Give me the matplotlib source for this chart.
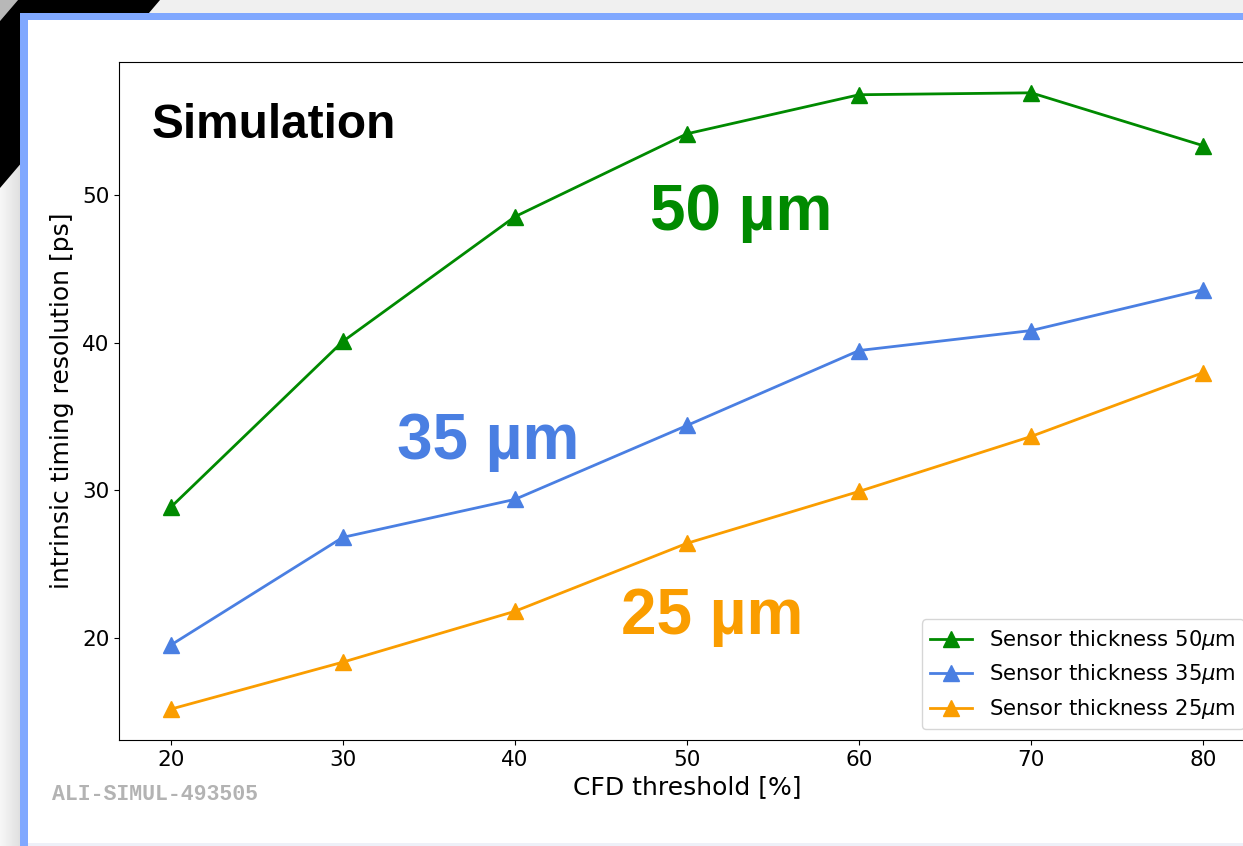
import numpy as np
import matplotlib
matplotlib.use("Agg")
import matplotlib.pyplot as plt
from matplotlib.patches import Polygon, Rectangle

# CFD threshold scan
thresholds = [20, 30, 40, 50, 60, 70, 80]
res_50um = [28.85, 40.07, 48.51, 54.12, 56.76, 56.89, 53.31]
res_35um = [19.53, 26.82, 29.39, 34.39, 39.46, 40.81, 43.58]
res_25um = [15.20, 18.38, 21.82, 26.42, 29.93, 33.65, 37.97]

series_labels = [r"Sensor thickness 50$\mu$m",
                 r"Sensor thickness 35$\mu$m",
                 r"Sensor thickness 25$\mu$m"]
tag_labels = ["50 µm", "35 µm", "25 µm"]

c_green = "#008a00"
c_blue = "#4a7fe2"
c_orange = "#fa9d00"

W, H = 1243, 846
fig = plt.figure(figsize=(W / 100, H / 100), dpi=100)
fig.patch.set_facecolor("white")

# slide frame drawn in pixel coordinates on a background axes
bg = fig.add_axes([0, 0, 1, 1], zorder=-10)
bg.set_xlim(0, W)
bg.set_ylim(H, 0)
bg.axis("off")
bg.add_patch(Rectangle((0, 0), W, H, color="#f0f0f0", lw=0))
grad = np.linspace(0.97, 0.88, 64)[None, :]
bg.imshow(np.dstack([grad, grad, grad]), extent=(0, 20, H, 0), aspect="auto", zorder=1)
bg.add_patch(Polygon([(0, 0), (18, 0), (0, 21)], closed=True, color="#b8b8b8", lw=0, zorder=2))
bg.add_patch(Polygon([(18, 0), (160, 0), (0, 188), (0, 21)], closed=True, color="black", lw=0, zorder=2))
bg.add_patch(Rectangle((20, 13), W, H, color="#80a8ff", lw=0, zorder=3))
bg.add_patch(Rectangle((28, 20), W, 823, color="white", lw=0, zorder=4))
bg.add_patch(Rectangle((28, 843), W, 3, color="#eef0f8", lw=0, zorder=4))
bg.set_xlim(0, W)
bg.set_ylim(H, 0)

ax = fig.add_axes([119 / W, 106 / H, 1136 / W, 678 / H])
ax.set_facecolor("white")
ax.plot(thresholds, res_50um, "-^", color=c_green, lw=2.0, ms=11, label=series_labels[0])
ax.plot(thresholds, res_35um, "-^", color=c_blue, lw=2.0, ms=11, label=series_labels[1])
ax.plot(thresholds, res_25um, "-^", color=c_orange, lw=2.0, ms=11, label=series_labels[2])

ax.set_xticks(thresholds)
ax.set_yticks([20, 30, 40, 50])
ax.tick_params(labelsize=15.5)
ax.set_xlabel("CFD threshold [%]", fontsize=18, labelpad=4)
ax.set_ylabel("intrinsic timing resolution [ps]", fontsize=18, labelpad=6)

bold = dict(family="Liberation Sans", fontweight="bold")
ax.text(18.9, 53.85, "Simulation", fontsize=34.4, color="black", va="baseline", **bold)
ax.text(47.85, 47.64, tag_labels[0], fontsize=46, color=c_green, va="baseline", **bold)
ax.text(33.14, 32.09, tag_labels[1], fontsize=46, color=c_blue, va="baseline", **bold)
ax.text(46.16, 20.27, tag_labels[2], fontsize=46, color=c_orange, va="baseline", **bold)

ax.legend(loc="lower right", fontsize=15.2)

fig.text(52 / W, 1 - 800 / H, "ALI-SIMUL-493505", family="Liberation Mono",
         fontweight="bold", fontsize=15.5, color="#b3b3b3", va="baseline")

fig.savefig("out.png", dpi=100)
